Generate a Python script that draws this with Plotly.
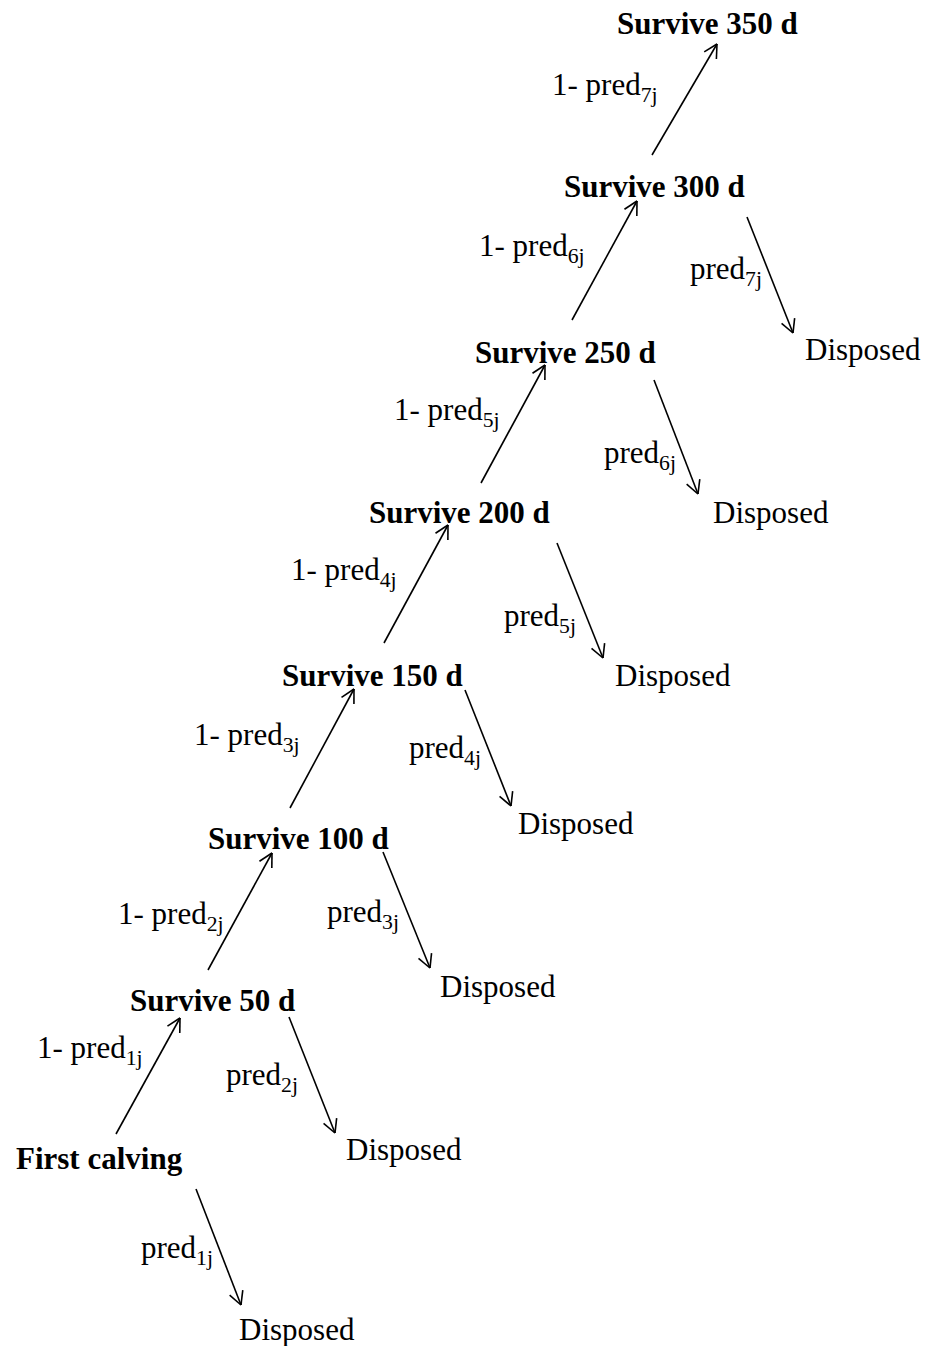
import math
import plotly.graph_objects as go

# Node labels and their centres (pixel coordinates of the diagram canvas)
node_labels = ["First calving", "Survive 50 d", "Survive 100 d", "Survive 150 d",
               "Survive 200 d", "Survive 250 d", "Survive 300 d", "Survive 350 d"]
node_x = [99, 212, 298, 372, 459, 565, 654, 707]
node_y = [1158, 1000, 838, 675, 512, 352, 186, 23]

disposed_x = [297, 404, 498, 576, 673, 771, 863]
disposed_y = [1329, 1149, 986, 823, 675, 512, 349]

# survive arrows (tail -> head)
up_tail_x = [116, 208, 290, 384, 481, 572, 652]
up_tail_y = [1134, 970, 808, 643, 483, 320, 155]
up_head_x = [180, 272, 354, 448, 545, 637, 717]
up_head_y = [1018, 853, 689, 525, 365, 201, 44]

# disposal arrows (tail -> head)
dn_tail_x = [196, 289, 383, 465, 557, 654, 747]
dn_tail_y = [1189, 1017, 852, 690, 543, 380, 217]
dn_head_x = [241, 335, 430, 511, 603, 698, 793]
dn_head_y = [1305, 1133, 968, 806, 658, 494, 333]

# edge labels
up_lab_x = [90, 171, 247, 344, 447, 532, 605]
up_lab_y = [1050, 916, 737, 572, 412, 248, 87]
dn_lab_x = [177, 262, 363, 445, 540, 640, 726]
dn_lab_y = [1250, 1077, 914, 750, 618, 455, 271]
indices = ["1j", "2j", "3j", "4j", "5j", "6j", "7j"]

FONT = "Liberation Serif"
FS = 31
OFF = 8  # default page body margin

fig = go.Figure()

lx, ly = [], []


def add_arrow(x0, y0, x1, y1):
    lx.extend([x0, x1, None])
    ly.extend([y0, y1, None])
    dx, dy = x0 - x1, y0 - y1
    L = math.hypot(dx, dy)
    ux, uy = dx / L, dy / L
    hl = 15
    for ang in (math.radians(28), math.radians(-28)):
        rx = ux * math.cos(ang) - uy * math.sin(ang)
        ry = ux * math.sin(ang) + uy * math.cos(ang)
        lx.extend([x1, x1 + rx * hl, None])
        ly.extend([y1, y1 + ry * hl, None])


for i in range(7):
    add_arrow(up_tail_x[i], up_tail_y[i], up_head_x[i], up_head_y[i])
    add_arrow(dn_tail_x[i], dn_tail_y[i], dn_head_x[i], dn_head_y[i])

fig.add_trace(go.Scatter(x=lx, y=ly, mode="lines",
                         line=dict(color="black", width=1.6),
                         hoverinfo="skip", showlegend=False))

font = dict(family=FONT, size=FS, color="black")
for lab, x, y in zip(node_labels, node_x, node_y):
    fig.add_annotation(x=x, y=y, text="<b>" + lab + "</b>", showarrow=False,
                       font=font, xanchor="center", yanchor="middle", borderpad=0)
for x, y in zip(disposed_x, disposed_y):
    fig.add_annotation(x=x, y=y, text="Disposed", showarrow=False,
                       font=font, xanchor="center", yanchor="middle", borderpad=0)
for idx, x, y in zip(indices, up_lab_x, up_lab_y):
    fig.add_annotation(x=x, y=y, text="1- pred<sub>" + idx + "</sub>", showarrow=False,
                       font=font, xanchor="center", yanchor="middle", borderpad=0)
for idx, x, y in zip(indices, dn_lab_x, dn_lab_y):
    fig.add_annotation(x=x, y=y, text="pred<sub>" + idx + "</sub>", showarrow=False,
                       font=font, xanchor="center", yanchor="middle", borderpad=0)

fig.update_layout(
    width=933 - OFF, height=1346 - OFF,
    margin=dict(l=0, r=0, t=0, b=0),
    paper_bgcolor="white", plot_bgcolor="white",
    xaxis=dict(range=[OFF, 933], visible=False, fixedrange=True),
    yaxis=dict(range=[1346, OFF], visible=False, fixedrange=True),
)

fig.write_html("out.html")
